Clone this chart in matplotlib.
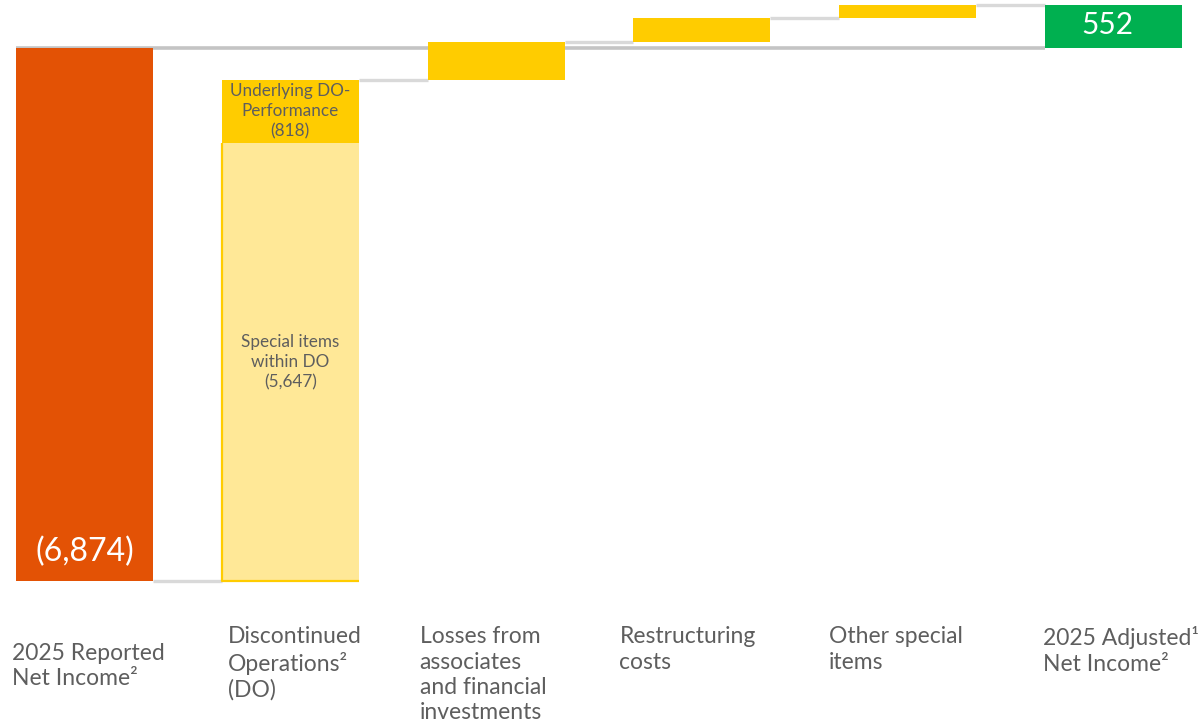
import numpy as np
import matplotlib.pyplot as plt
from matplotlib.transforms import blended_transform_factory

plt.rcParams['font.family'] = ['Lato', 'DejaVu Sans']

# bridge from reported to adjusted net income (EUR m)
categories = ["2025 Reported\nNet Income²", "Discontinued\nOperations²\n(DO)",
              "Losses from\nassociates\nand financial\ninvestments", "Restructuring\ncosts",
              "Other special\nitems", "2025 Adjusted¹\nNet Income²"]
reported = -6874
do_special = 5647
do_underlying = 818
losses = 490
restructuring = 305
other_special = 166
adjusted = 552

ORANGE = '#E35205'
YELLOW = '#FFCC00'
LIGHT_YELLOW = '#FFE897'
GREEN = '#00B050'
GREY_TXT = '#5E5E5E'
LINE = '#D9D9D9'

fig = plt.figure(figsize=(12.02, 7.24), dpi=100)
ax = fig.add_axes([0, 0, 1, 1])
ax.set_xlim(-0.4106, 5.430)
ax.set_ylim(-8720, 619)
ax.axis('off')

w = 0.665
x = np.arange(len(categories))

# zero line behind the bars
ax.plot([x[0] - w / 2, x[-1] - w / 2], [0, 0], color='#C4C4C4', lw=2.6, zorder=1,
        solid_capstyle='butt')

# start / end totals
ax.bar(x[0], reported, w, color=ORANGE, zorder=2)
ax.bar(x[5], adjusted, w, color=GREEN, zorder=2)

# discontinued operations, split in two parts
do_base = reported
b_sp = ax.bar(x[1], do_special, w, bottom=do_base, color=LIGHT_YELLOW, zorder=2)
p = b_sp[0]
ax.plot([p.get_x() + p.get_width(), p.get_x(), p.get_x()],
        [p.get_y(), p.get_y(), p.get_y() + p.get_height()],
        color=YELLOW, lw=1.6, zorder=3, solid_capstyle='butt')
ax.bar(x[1], do_underlying, w, bottom=do_base + do_special, color=YELLOW, zorder=2)

# remaining adjustments
steps = [losses, restructuring, other_special]
level = reported + do_special + do_underlying
levels = [reported, level]
for i, s in enumerate(steps):
    ax.bar(x[2 + i], s, w, bottom=level, color=YELLOW, zorder=2)
    level += s
    levels.append(level)

# connectors between bars
for i in range(len(categories) - 1):
    ax.plot([x[i] + w / 2, x[i + 1] - w / 2], [levels[i], levels[i]],
            color=LINE, lw=2.4, zorder=1, solid_capstyle='butt')

# value labels
ax.text(x[0], reported + 370, f"({abs(reported):,})", ha='center', va='center',
        color='white', fontsize=23)
ax.text(x[5] - 0.03, adjusted / 2 + 20, f"{adjusted}", ha='center', va='center',
        color='white', fontsize=21.5)
ax.text(x[1], do_base + do_special + do_underlying / 2,
        f"Underlying DO-\nPerformance\n({do_underlying})", ha='center', va='center',
        color=GREY_TXT, fontsize=12.3, linespacing=1.3)
ax.text(x[1], do_base + do_special / 2,
        f"Special items\nwithin DO\n({do_special:,})", ha='center', va='center',
        color=GREY_TXT, fontsize=12.3, linespacing=1.3)

# category labels under the chart
trans = blended_transform_factory(ax.transData, ax.transAxes)
label_dx = [-0.019, 0.029, -0.039, -0.068, -0.049, -0.010]
label_top = [0.112, 0.135, 0.135, 0.135, 0.135, 0.135]
for i, cat in enumerate(categories):
    ax.text(x[i] - w / 2 + label_dx[i], label_top[i], cat, transform=trans,
            ha='left', va='top', color=GREY_TXT, fontsize=16.5, linespacing=1.25)

fig.savefig('out.png', dpi=100)
